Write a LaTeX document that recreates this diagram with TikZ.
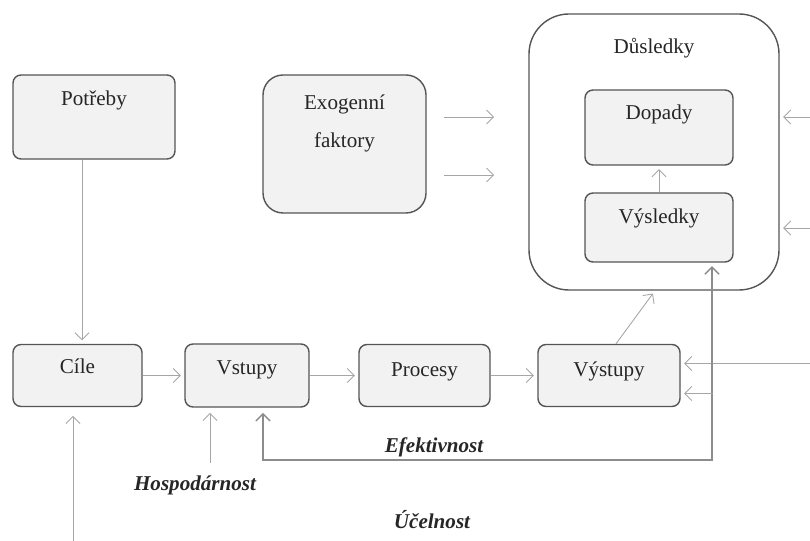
\documentclass[tikz,border=0pt]{standalone}
\usepackage{fontspec}
\setmainfont{Liberation Serif}
\usetikzlibrary{arrows.meta, positioning, calc}
\definecolor{boxfill}{HTML}{F2F2F2}
\definecolor{boxline}{HTML}{555555}
\definecolor{arrowgray}{HTML}{A6A6A6}
\definecolor{linegray}{HTML}{8C8C8C}
\definecolor{textgray}{HTML}{262626}
\tikzstyle{block} = [rectangle, draw=boxline, fill=boxfill, line width=0.8pt,
    rounded corners=0.16cm]
\tikzstyle{group} = [rectangle, draw=boxline, fill=white, line width=0.8pt,
    rounded corners=0.8cm, minimum width=5cm, minimum height=5.52cm]
\tikzstyle{headtext} = [anchor=base, text=textgray, yshift=-0.6cm]
\tikzstyle{measure} = [font=\fontsize{12}{14}\selectfont\bfseries\itshape, text=textgray]
\tikzstyle{arrow} = [draw=arrowgray, line width=0.5pt, shorten >=2pt,
    >={Straight Barb[length=4pt,width=8pt]}, ->]
\tikzstyle{feedback} = [arrow, draw=linegray, line width=0.8pt]

\begin{document}
\begin{tikzpicture}[auto, font=\fontsize{12}{14}\selectfont]
    \useasboundingbox (0,0) rectangle (16.2,10.8);
    % Top nodes
    \node [block, minimum width=3.24cm, minimum height=1.68cm,
        label={[headtext, yshift=-0.02cm]north:Potřeby}] (potreby) at (1.88,8.46) {};
    \node [block, rounded corners=0.4cm, minimum width=3.26cm, minimum height=2.76cm,
        label={[text=textgray, anchor=center, align=center, font=\fontsize{12}{21.5}\selectfont, yshift=-0.98cm]north:Exogenní\\faktory}] (exogenni) at (6.89,7.92) {};

    % Consequences group
    \node [group, label={[headtext, yshift=-0.2cm]north:Důsledky}] (dusledky) at (13.08,7.76) {};
    \node [block, minimum width=2.96cm, minimum height=1.38cm,
        label={[headtext, yshift=-0.02cm]north:Výsledky}] (vysledky) at (13.18,6.25) {};
    \node [block, minimum width=2.96cm, minimum height=1.5cm, above of=vysledky, node distance=2cm,
        label={[headtext]north:Dopady}] (dopady) {};

    % Bottom chain
    \node [block, minimum width=2.58cm, minimum height=1.24cm,
        label={[headtext]north:Cíle}] (cile) at (1.55,3.29) {};
    \node [block, minimum width=2.48cm, minimum height=1.26cm, right of=cile, node distance=3.39cm,
        label={[headtext, yshift=-0.02cm]north:Vstupy}] (vstupy) {};
    \node [block, minimum width=2.62cm, minimum height=1.24cm, right of=vstupy, node distance=3.55cm,
        label={[headtext, yshift=-0.06cm]north:Procesy}] (procesy) {};
    \node [block, minimum width=2.84cm, minimum height=1.24cm, right of=procesy, node distance=3.69cm,
        label={[headtext, yshift=-0.06cm]north:Výstupy}] (vystupy) {};

    % Measures
    \node [measure] (hospodarnost) at (3.9,1.1) {Hospodárnost};
    \node [measure] (efektivnost) at (8.68,1.86) {Efektivnost};
    \node [measure] (ucelnost) at (8.64,0.4) {Účelnost};
    \coordinate (bottomedge) at (0,-0.1);
    \coordinate (effbase) at (0,1.6);

    % Arrows
    \draw [arrow] ([xshift=-0.24cm]potreby.south) -- ([xshift=-0.24cm]potreby.south |- cile.north);
    \draw [arrow] (cile.east) -- (vstupy.west);
    \draw [arrow] (vstupy.east) -- (procesy.west);
    \draw [arrow] (procesy.east) -- (vystupy.west);
    \draw [arrow] ([xshift=0.14cm]vystupy.north) -- ([xshift=0.02cm]dusledky.south);
    \draw [arrow] (vysledky.north) -- (dopady.south);
    \draw [arrow] ([xshift=0.34cm, yshift=0.54cm]exogenni.east) -- ++(1.08,0);
    \draw [arrow] ([xshift=0.34cm, yshift=-0.62cm]exogenni.east) -- ++(1.08,0);
    \draw [arrow] ($(dusledky.east)+(0.7,0.7)$) -- ($(dusledky.east)+(0,0.7)$);
    \draw [arrow] ($(dusledky.east)+(0.7,-1.52)$) -- ($(dusledky.east)+(0,-1.52)$);
    \draw [arrow] ($(vystupy.east)+(2.7,0.24)$) -- ($(vystupy.east)+(0,0.24)$);

    % Measure arrows
    \draw [arrow, shorten >=5pt] ([xshift=-0.09cm]cile.south |- bottomedge) -- ([xshift=-0.09cm]cile.south);
    \draw [arrow, shorten >=3pt] ([xshift=-0.74cm, yshift=0.12cm]vstupy.south |- hospodarnost.north) -- ([xshift=-0.74cm]vstupy.south);
    \draw [feedback, <->, shorten <=3pt] ([xshift=0.32cm]vstupy.south) -- ([xshift=0.32cm]vstupy.south |- effbase)
        -| ([xshift=1.06cm]vysledky.south);
    \draw [arrow] ([yshift=-0.36cm]vystupy.east -| vysledky.south east) ++(-0.42,0) -- ([yshift=-0.36cm]vystupy.east);
\end{tikzpicture}
\end{document}
